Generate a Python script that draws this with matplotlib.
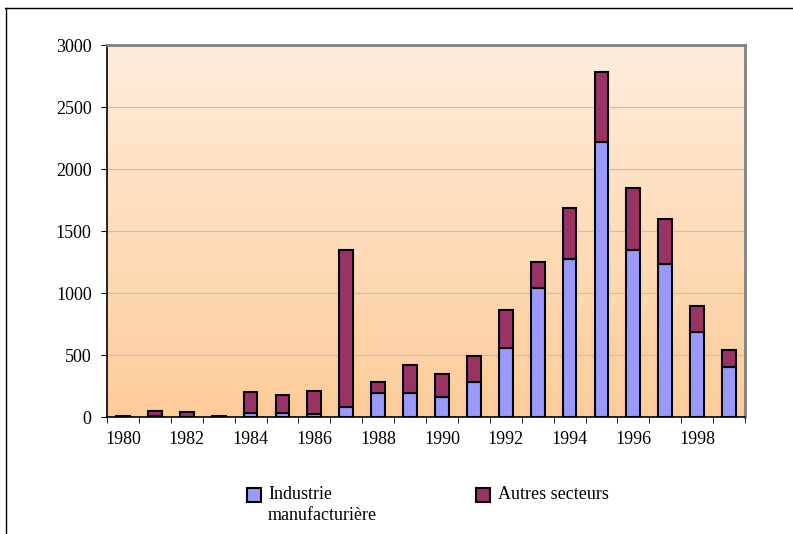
import matplotlib
matplotlib.use("Agg")
from matplotlib import pyplot as plt
from matplotlib.lines import Line2D
from matplotlib.patches import Rectangle
import numpy as np

# Data
years = list(range(1980, 2000))
industrie = [2, 5, 3, 1, 30, 35, 25, 83, 194, 196, 165, 285,
             556, 1040, 1272, 2220, 1348, 1234, 683, 405]
totals = [10, 48, 38, 8, 205, 177, 212, 1347, 280, 417, 350, 494,
          863, 1252, 1688, 2780, 1850, 1595, 895, 542]
autres = [t - i for t, i in zip(totals, industrie)]
labels = ["Industrie\nmanufacturière", "Autres secteurs"]
colors = ["#9999FF", "#993366"]

plt.rcParams["font.family"] = ["Liberation Serif", "DejaVu Serif"]
plt.rcParams["font.size"] = 13

W, H = 793, 534
fig = plt.figure(figsize=(W / 100, H / 100), dpi=100)
ax = fig.add_axes([107 / W, 1 - 417 / H, (745 - 107) / W, (417 - 45) / H])

# Gradient background of the plot area
grad = np.linspace(0, 1, 256).reshape(-1, 1)
top = np.array([254, 237, 220]) / 255
bottom = np.array([255, 204, 153]) / 255
img = top + (bottom - top) * grad[..., None]
ax.imshow(img, extent=[0, 1, 0, 1], transform=ax.transAxes, aspect="auto", zorder=0)

x = np.arange(len(years))
w = 0.43
ax.bar(x, industrie, w, color=colors[0], edgecolor="black", linewidth=1.5, zorder=3)
ax.bar(x, autres, w, bottom=industrie, color=colors[1], edgecolor="black", linewidth=1.5,
       zorder=3)

ax.set_xlim(-0.5, len(years) - 0.5)
ax.set_ylim(0, 3000)
ax.set_yticks(range(0, 3001, 500))
ax.yaxis.grid(True, color="#C0C0C0", linewidth=0.9, zorder=1)
ax.set_axisbelow(True)

ax.set_xticks(x)
ax.set_xticklabels([str(y) if y % 2 == 0 else "" for y in years])
ax.set_xticks(np.arange(-0.5, len(years)), minor=True)
ax.tick_params(axis="x", which="major", length=0, pad=10)
ax.tick_params(axis="x", which="minor", length=4, direction="out", color="black")
ax.tick_params(axis="y", length=4, direction="out", pad=7)

for s in ["left", "bottom"]:
    ax.spines[s].set_color("black")
    ax.spines[s].set_linewidth(1.2)
for s in ["top", "right"]:
    ax.spines[s].set_color("#808080")
    ax.spines[s].set_linewidth(2)

# Legend below the plot (handles aligned with the first text line)
for (hx, tx), lab, col in zip([(247, 268), (476, 498)], labels, colors):
    fig.add_artist(Rectangle((hx / W, 1 - 502 / H), 14 / W, 14 / H, transform=fig.transFigure,
                             facecolor=col, edgecolor="black", linewidth=1.5))
    for k, line in enumerate(lab.split("\n")):
        fig.text(tx / W, 1 - (499 + 21 * k) / H, line, va="baseline", ha="left")

# Outer chart border (top and left edges visible)
fig.add_artist(Line2D([5 / W, 1], [1 - 8 / H, 1 - 8 / H], color="black", linewidth=1))
fig.add_artist(Line2D([6 / W, 6 / W], [0, 1 - 8 / H], color="black", linewidth=1))

fig.savefig("out.png", dpi=100)
